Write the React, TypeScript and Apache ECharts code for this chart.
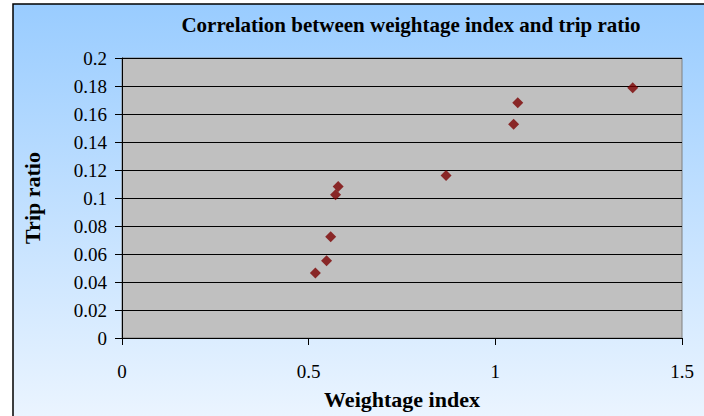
import React, { useEffect, useRef } from "react";
import * as echarts from "echarts";

const weightageIndex = [0.518, 0.548, 0.559, 0.572, 0.579, 0.868, 1.049, 1.06, 1.368];
const tripRatio = [0.0464, 0.0552, 0.0724, 0.1024, 0.1083, 0.116, 0.1526, 0.168, 0.1788];

const titleText = "Correlation between weightage index and trip ratio";
const xName = "Weightage index";
const yName = "Trip ratio";
const FONT = "'Liberation Serif', 'Times New Roman', serif";

export default function App() {
  const ref = useRef<HTMLDivElement>(null);
  useEffect(() => {
    document.body.style.margin = "0";
    const chart = echarts.init(ref.current!, null, { renderer: "svg" });
    const data = weightageIndex.map((x, i) => [x, tripRatio[i]]);
    chart.setOption({
      animation: false,
      backgroundColor: "#ffffff",
      graphic: [
        {
          type: "rect",
          z: -10,
          silent: true,
          shape: { x: 13, y: 4, width: 720, height: 430 },
          style: {
            fill: new echarts.graphic.LinearGradient(0, 0, 0, 1, [
              { offset: 0, color: "#99ccff" },
              { offset: 1, color: "#eef6ff" },
            ]),
            stroke: "#000000",
            lineWidth: 1.5,
          },
        },
      ],
      title: {
        text: titleText,
        left: 406,
        top: 9,
        textAlign: "center",
        textStyle: { fontFamily: FONT, fontSize: 21, fontWeight: "bold", color: "#000" },
      },
      grid: {
        left: 122,
        right: 22,
        top: 58,
        bottom: 78,
        show: true,
        backgroundColor: "#c0c0c0",
        borderColor: "#808080",
        borderWidth: 1,
      },
      xAxis: {
        type: "value",
        min: 0,
        max: 1.5,
        interval: 0.5,
        name: xName,
        nameLocation: "middle",
        nameGap: 50,
        nameTextStyle: { fontFamily: FONT, fontSize: 22, fontWeight: "bold", color: "#000" },
        axisLine: { show: true, onZero: false, lineStyle: { color: "#000", width: 1 } },
        axisTick: { show: true, inside: false, length: 7, lineStyle: { color: "#000" } },
        axisLabel: { fontFamily: FONT, fontSize: 19, color: "#000", margin: 24 },
        splitLine: { show: false },
      },
      yAxis: {
        type: "value",
        min: 0,
        max: 0.2,
        interval: 0.02,
        name: yName,
        nameLocation: "middle",
        nameGap: 79,
        nameTextStyle: { fontFamily: FONT, fontSize: 22, fontWeight: "bold", color: "#000" },
        axisLine: { show: true, lineStyle: { color: "#000", width: 1 } },
        axisTick: { show: true, inside: false, length: 7, lineStyle: { color: "#000" } },
        axisLabel: {
          fontFamily: FONT,
          fontSize: 19,
          color: "#000",
          margin: 15,
          formatter: (v: number) => String(+v.toFixed(2)),
        },
        splitLine: { show: true, lineStyle: { color: "#000", width: 1 } },
      },
      series: [
        {
          type: "scatter",
          data,
          symbol: "diamond",
          symbolSize: [11, 11],
          itemStyle: { color: "#7a0000" },
        },
      ],
    });
    return () => chart.dispose();
  }, []);
  return <div ref={ref} style={{ width: 704, height: 416 }} />;
}
